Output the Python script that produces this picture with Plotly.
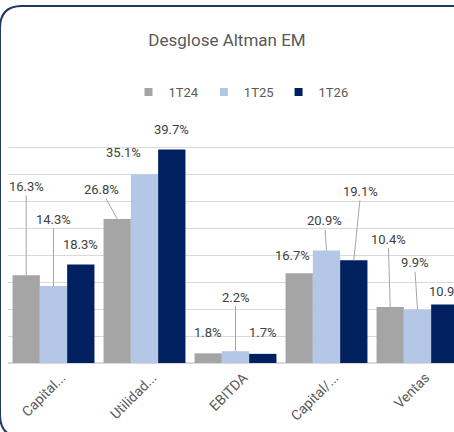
import plotly.graph_objects as go

# ---- data ----
categories = ["Capital...", "Utilidad...", "EBITDA", "Capital/...", "Ventas"]
series_names = ["1T24", "1T25", "1T26"]
v_1t24 = [16.3, 26.8, 1.8, 16.7, 10.4]
v_1t25 = [14.3, 35.1, 2.2, 20.9, 9.9]
v_1t26 = [18.3, 39.7, 1.7, 19.1, 10.9]
series_values = [v_1t24, v_1t25, v_1t26]

# ---- style ----
colors = ["#A5A5A5", "#B4C7E7", "#002060"]
FONT = "Roboto"
W, H = 454, 432
ML, MR, MT, MB = 8, 0, 121, 69
cat_px = 91.0
plot_w = W - ML - MR
plot_h = H - MT - MB
x_hi = -0.5 + plot_w / cat_px
bargap = 0.1
bar_px = cat_px * (1 - bargap) / 3

# label offsets (px, relative to bar top centre) and leader flag, per series/category
label_dx = [[0, -16, 0, -7, -2], [0, -21, 0, -2, -3], [0, 0, 0, 7, 2]]
label_dy = [[-89, -29, -21, -18, -68], [-67, -22, -54, -30, -47], [-20, -20, -21, -69, -13]]
leader = [[1, 1, 0, 0, 1], [1, 0, 1, 1, 1], [0, 0, 0, 1, 0]]

fig = go.Figure()
for i, (name, vals) in enumerate(zip(series_names, series_values)):
    fig.add_trace(go.Bar(x=categories, y=vals, name=name, marker=dict(color=colors[i], line=dict(width=0)),
                         showlegend=False, hoverinfo="skip"))
    fig.add_trace(go.Scatter(x=[None], y=[None], mode="markers", name=name,
                             marker=dict(symbol="square", size=8, color=colors[i])))

annotations = []
for i, vals in enumerate(series_values):
    for j, v in enumerate(vals):
        annotations.append(dict(
            x=categories[j], y=v, xref="x", yref="y",
            xshift=(i - 1) * bar_px,
            text=f"{v:.1f}%", showarrow=True,
            ax=label_dx[i][j], ay=label_dy[i][j],
            arrowhead=0, arrowwidth=1, standoff=0,
            arrowcolor="#A6A6A6" if leader[i][j] else "rgba(0,0,0,0)",
            font=dict(family=FONT, size=13, color="#404040"),
        ))

# rounded border (pixels -> paper coords)
def px(xp, yp):
    return (xp - ML) / plot_w, (H - MB - yp) / plot_h

def build(pts):
    s = ""
    for cmd, ps in pts:
        s += cmd + " ".join(f"{px(a, b)[0]:.5f},{px(a, b)[1]:.5f}" for a, b in ps) + " "
    return s

r = 22
path = build([("M", [(0, 380)]), ("L", [(0, 6 + r)]), ("Q", [(0, 6), (r, 6)]), ("L", [(470, 6)])])
pathb = build([("M", [(0, 380)]), ("L", [(0, 437 - r)]), ("Q", [(0, 437), (r, 437)]), ("L", [(470, 437)])])

fig.update_layout(
    width=W, height=H, autosize=False,
    margin=dict(l=ML, r=MR, t=MT, b=MB, pad=0),
    paper_bgcolor="white", plot_bgcolor="white",
    barmode="group", bargap=bargap, bargroupgap=0,
    title=dict(text="Desglose Altman EM", x=0.5, xref="container", xanchor="center",
               y=1 - 40 / H, yref="container", yanchor="middle",
               font=dict(family=FONT, size=17, color="#595959")),
    legend=dict(orientation="h", x=0.5 + 14 / W, xref="container", xanchor="center",
                y=1 - 92 / H, yref="container", yanchor="middle",
                font=dict(family=FONT, size=13, color="#595959"),
                itemclick=False),
    xaxis=dict(type="category", range=[-0.5, x_hi], showgrid=False,
               showline=True, linecolor="#D9D9D9", linewidth=1,
               ticks="", tickangle=-45, ticklabelshift=8,
               tickfont=dict(family=FONT, size=14, color="#595959")),
    yaxis=dict(range=[0, 45], dtick=5, showticklabels=False, showgrid=True,
               gridcolor="#D9D9D9", gridwidth=1, zeroline=True, zerolinecolor="#D9D9D9",
               showline=False, ticks=""),
    annotations=annotations,
    shapes=[
        dict(type="path", path=path, xref="paper", yref="paper",
             line=dict(color="#1F3864", width=2), layer="above"),
        dict(type="path", path=pathb, xref="paper", yref="paper",
             line=dict(color="#1F3864", width=2), layer="above"),
    ],
)

fig.write_html("out.html", config={"displayModeBar": False, "staticPlot": True},
               post_script="document.body.style.margin='0';document.body.style.overflow='hidden';")
